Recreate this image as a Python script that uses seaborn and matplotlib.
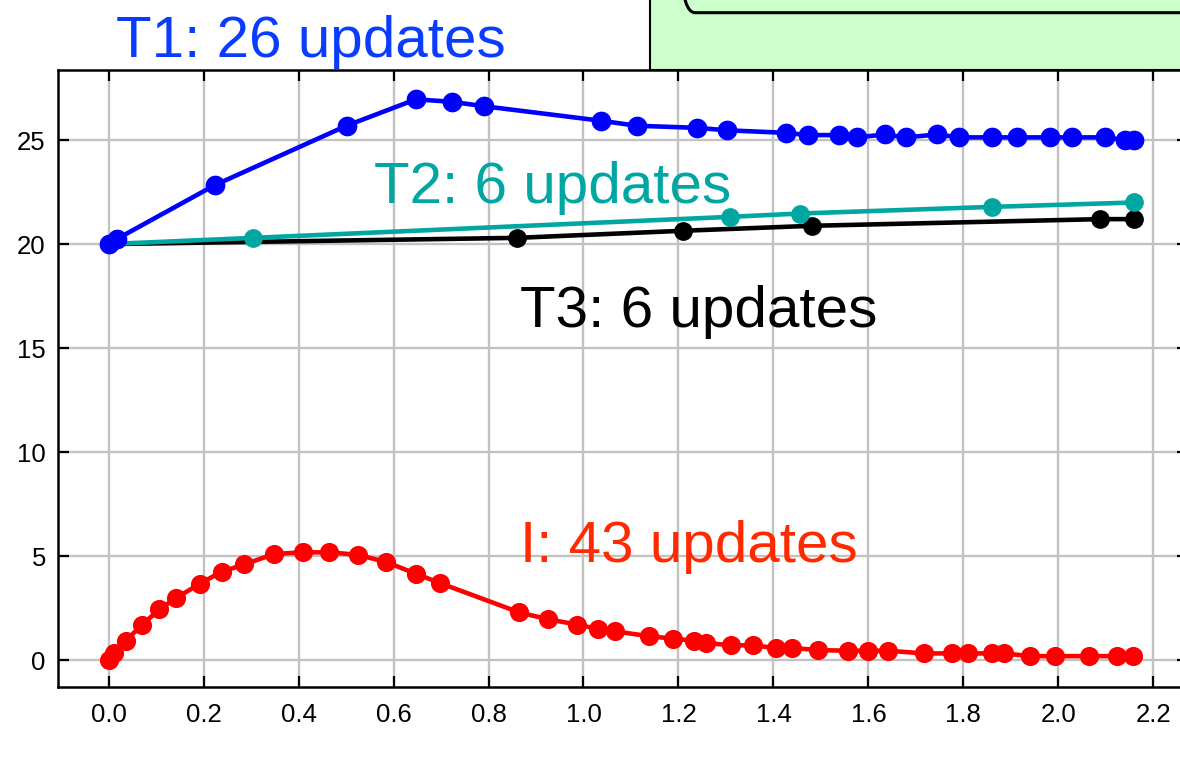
import matplotlib
matplotlib.use("Agg")
import matplotlib.pyplot as plt
import matplotlib.transforms as mtransforms
from matplotlib.patches import Rectangle, FancyBboxPatch
import numpy as np
import pandas as pd
import seaborn as sns

# ---- series data -------------------------------------------------------
t1_x = [0.0, 0.017, 0.224, 0.501, 0.647, 0.723, 0.790, 1.037, 1.112, 1.239,
        1.302, 1.426, 1.472, 1.537, 1.577, 1.634, 1.679, 1.745, 1.791, 1.861,
        1.912, 1.983, 2.028, 2.099, 2.141, 2.160]
t1_y = [20.0, 20.24, 22.84, 25.69, 26.96, 26.84, 26.63, 25.93, 25.69, 25.59,
        25.47, 25.35, 25.24, 25.24, 25.13, 25.27, 25.13, 25.27, 25.13, 25.13,
        25.13, 25.13, 25.13, 25.13, 25.0, 25.0]

t2_x = [0.0, 0.305, 1.309, 1.456, 1.861, 2.160]
t2_y = [20.0, 20.30, 21.31, 21.47, 21.79, 22.0]

t3_x = [0.0, 0.860, 1.209, 1.482, 2.088, 2.160]
t3_y = [20.0, 20.30, 20.64, 20.88, 21.20, 21.20]

i_x = [0.0, 0.012, 0.036, 0.071, 0.107, 0.142, 0.192, 0.238, 0.286, 0.348,
       0.409, 0.465, 0.525, 0.585, 0.647, 0.698, 0.865, 0.926, 0.986, 1.031,
       1.066, 1.138, 1.188, 1.233, 1.259, 1.310, 1.356, 1.405, 1.440, 1.494,
       1.558, 1.600, 1.642, 1.716, 1.775, 1.810, 1.861, 1.886, 1.940, 1.993,
       2.064, 2.123, 2.158]
i_y = [0.0, 0.34, 0.93, 1.71, 2.44, 2.98, 3.67, 4.25, 4.60, 5.10,
       5.18, 5.18, 5.06, 4.71, 4.15, 3.70, 2.29, 1.96, 1.71, 1.49,
       1.38, 1.15, 1.03, 0.93, 0.82, 0.71, 0.71, 0.58, 0.58, 0.48,
       0.45, 0.45, 0.45, 0.32, 0.32, 0.32, 0.32, 0.32, 0.19, 0.19,
       0.19, 0.19, 0.19]

x_ticks = [0.0, 0.2, 0.4, 0.6, 0.8, 1.0, 1.2, 1.4, 1.6, 1.8, 2.0, 2.2]
y_ticks = [0, 5, 10, 15, 20, 25]

labels = ["T1: 26 updates", "T2: 6 updates", "T3: 6 updates", "I: 43 updates"]

# ---- styling -------------------------------------------------------------
sns.set_theme(style="whitegrid")
plt.rcParams["font.family"] = ["Liberation Sans", "DejaVu Sans"]

W, H = 1180, 773
fig = plt.figure(figsize=(W / 100, H / 100), dpi=100)

left_px, right_px, top_px, bottom_px = 58.3, 1188.0, 70.0, 686.7
ax = fig.add_axes([left_px / W, 1 - bottom_px / H,
                   (right_px - left_px) / W, (bottom_px - top_px) / H])
ax.set_facecolor("white")

BLUE = "#0000ff"
TEAL = "#00a6a2"
BLACK = "#000000"
RED = "#ff0000"

series = [
    (t3_x, t3_y, BLACK, 13.5),
    (t2_x, t2_y, TEAL, 13.5),
    (t1_x, t1_y, BLUE, 14.2),
    (i_x, i_y, RED, 13.8),
]
for xs, ys, col, ms in series:
    df = pd.DataFrame({"t": xs, "v": ys})
    sns.lineplot(data=df, x="t", y="v", ax=ax, color=col, linewidth=3.3,
                 marker="o", markersize=ms, markeredgewidth=0,
                 markeredgecolor=col, sort=False, zorder=3)

ax.set_xlim(-0.106, 2.273)
ax.set_ylim(-1.28, 28.37)
ax.set_xticks(x_ticks)
ax.set_xticklabels([f"{v:.1f}" for v in x_ticks])
ax.set_yticks(y_ticks)
ax.set_yticklabels([str(v) for v in y_ticks])
ax.set_xlabel("")
ax.set_ylabel("")

ax.grid(True, color="#c2c2c2", linewidth=1.7)
ax.set_axisbelow(True)
for s in ax.spines.values():
    s.set_visible(True)
    s.set_color("black")
    s.set_linewidth(1.8)

ax.tick_params(axis="both", which="major", direction="in", length=8,
               width=1.6, color="black", labelsize=18.5, labelcolor="black",
               top=True, right=True, bottom=True, left=True)
ax.tick_params(axis="x", pad=12)
ax.tick_params(axis="y", pad=9)

# ---- series captions -----------------------------------------------------
cap_font = dict(family=["Liberation Sans", "DejaVu Sans"],
                fontweight="normal", fontsize=42)
ax.text(0.015, 29.0, labels[0], color="#0a3cff", ha="left", va="baseline",
        clip_on=False, **cap_font)
ax.text(0.559, 21.96, labels[1], color="#00a6a2", ha="left", va="baseline",
        **cap_font)
ax.text(0.867, 16.0, labels[2], color="black", ha="left", va="baseline",
        **cap_font)
ax.text(0.866, 4.70, labels[3], color="#ff2a00", ha="left", va="baseline",
        **cap_font)

# ---- panel box in the top-right corner ------------------------------------
px = mtransforms.IdentityTransform()
fig.patches.append(Rectangle((650, H - 70), 600, 120, transform=px,
                             facecolor="#ccffcc", edgecolor="black",
                             linewidth=1.5, zorder=0, figure=fig))
fig.patches.append(FancyBboxPatch((679, H - 12.7), 700, 100, transform=px,
                                  boxstyle="round,pad=0,rounding_size=16",
                                  facecolor="none", edgecolor="black",
                                  linewidth=2.2, zorder=1, figure=fig))

fig.savefig("out.png", dpi=100)
